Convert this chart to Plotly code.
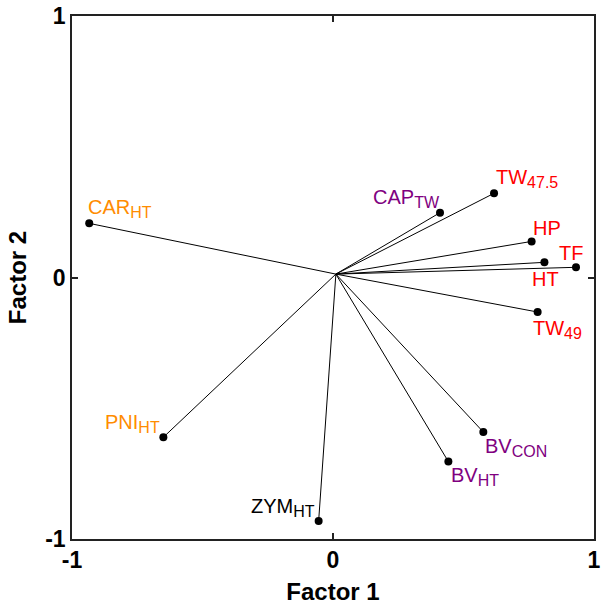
import plotly.graph_objects as go

# Factor loadings
names = ["CAR", "PNI", "ZYM", "BV", "BV", "CAP", "TW", "HP", "HT", "TF", "TW"]
subs = ["HT", "HT", "HT", "CON", "HT", "TW", "47.5", "", "", "", "49"]
factor1 = [-0.934, -0.650, -0.055, 0.576, 0.442, 0.410, 0.617, 0.761, 0.810, 0.931, 0.784]
factor2 = [0.207, -0.611, -0.931, -0.591, -0.704, 0.248, 0.322, 0.138, 0.058, 0.039, -0.132]
colors = ["#FF8C00", "#FF8C00", "#000000", "#800080", "#800080", "#800080",
          "#FF0000", "#FF0000", "#FF0000", "#FF0000", "#FF0000"]
origin = (0.011, 0.013)

tick_vals = [-1, 0, 1]
tick_text = ["-1", "0", "1"]

# label placement: (xanchor, yanchor, xshift, yshift)
placement = [
    ("left", "bottom", -2, 1),
    ("right", "bottom", -2, 0),
    ("right", "bottom", -3, 0),
    ("left", "top", 1, -2),
    ("left", "top", 2, -1),
    ("right", "bottom", 1, 1),
    ("left", "bottom", 1, 1),
    ("left", "bottom", 0, 1),
    ("center", "top", 1, -5),
    ("right", "bottom", 8, 2),
    ("left", "top", -6, -4),
]

FONT = "Arial, Liberation Sans"

fig = go.Figure()
for x, y in zip(factor1, factor2):
    fig.add_trace(go.Scatter(x=[origin[0], x], y=[origin[1], y], mode="lines",
                             line=dict(color="black", width=1), showlegend=False,
                             hoverinfo="skip"))
fig.add_trace(go.Scatter(x=factor1, y=factor2, mode="markers",
                         marker=dict(color="black", size=8), showlegend=False))

for n, s, x, y, c, (xa, ya, xs, ys) in zip(names, subs, factor1, factor2, colors, placement):
    txt = n + (f"<sub><span style='font-size:16px'>{s}</span></sub>" if s else "")
    fig.add_annotation(x=x, y=y, text=txt, showarrow=False, xanchor=xa, yanchor=ya,
                       xshift=xs, yshift=ys, borderpad=0,
                       font=dict(family=FONT, size=20, color=c))

axis_common = dict(range=[-1, 1], tickvals=tick_vals, ticktext=tick_text,
                   showgrid=False, zeroline=False, showline=True, linecolor="#222",
                   linewidth=1.5, mirror="ticks", ticks="inside", ticklen=6,
                   tickcolor="#222", tickwidth=1.5, automargin=False,
                   ticklabeloverflow="allow",
                   tickfont=dict(family=FONT, size=23, color="black", weight="bold"))

fig.update_layout(
    width=604, height=609,
    margin=dict(l=72, r=10, t=16, b=70),
    plot_bgcolor="white", paper_bgcolor="white",
    xaxis=dict(**axis_common,
               title=dict(text="<b>Factor 1</b>", standoff=11,
                          font=dict(family=FONT, size=24, color="black"))),
    yaxis=dict(**axis_common,
               title=dict(text="<b>Factor 2</b>", standoff=12,
                          font=dict(family=FONT, size=24, color="black"))),
)

# remove the default page margin so the figure fills the window exactly
fig.write_html("out.html", config={"displayModeBar": False},
               post_script="document.body.style.margin='0';document.body.style.overflow='hidden';")
